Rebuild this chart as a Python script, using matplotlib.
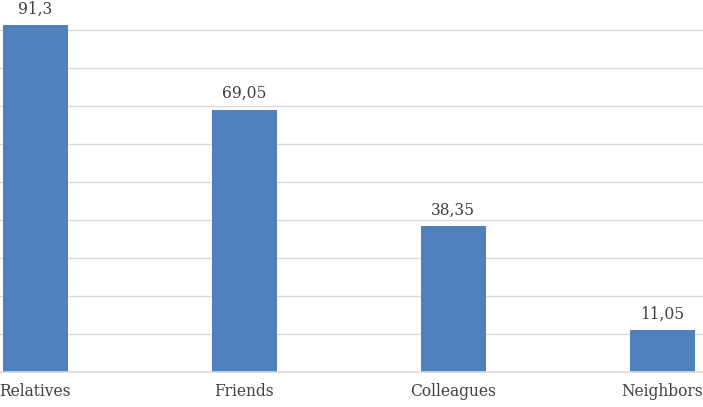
import matplotlib
matplotlib.use("Agg")
import matplotlib.pyplot as plt

categories = ["Relatives", "Friends", "Colleagues", "Neighbors"]
values = [91.3, 69.05, 38.35, 11.05]
value_labels = ["91,3", "69,05", "38,35", "11,05"]

W, H = 703, 407
fig = plt.figure(figsize=(W / 100, H / 100), dpi=100)
plt.rcParams['font.family'] = ['DejaVu Serif']

left_px, right_px = -69.5, 767
base_px = 372
ax = fig.add_axes([left_px / W, (H - base_px) / H, (right_px - left_px) / W, base_px / H])
ax.set_xlim(-0.5, len(categories) - 0.5)
ax.set_ylim(0, base_px / 3.8)

x = list(range(len(categories)))
bars = ax.bar(x, values, width=0.311, color="#4f81bd", zorder=3)

for yv in range(10, 100, 10):
    ax.axhline(yv, color="#d9d9d9", lw=1.0, zorder=1)
ax.axhline(0, color="#d9d9d9", lw=1.2, zorder=4, clip_on=False)

for xi, v, lab in zip(x, values, value_labels):
    ax.annotate(lab, (xi, v), xytext=(0, 5.5), textcoords="offset points",
                ha="center", va="bottom", fontsize=11.2, color="#404040",
                annotation_clip=False)

ax.set_xticks(x)
ax.set_xticklabels(categories, fontsize=11.2, color="#404040")
ax.tick_params(axis="x", length=0, pad=8)
ax.set_yticks([])
for s in ax.spines.values():
    s.set_visible(False)

fig.savefig("out.png", dpi=100)
